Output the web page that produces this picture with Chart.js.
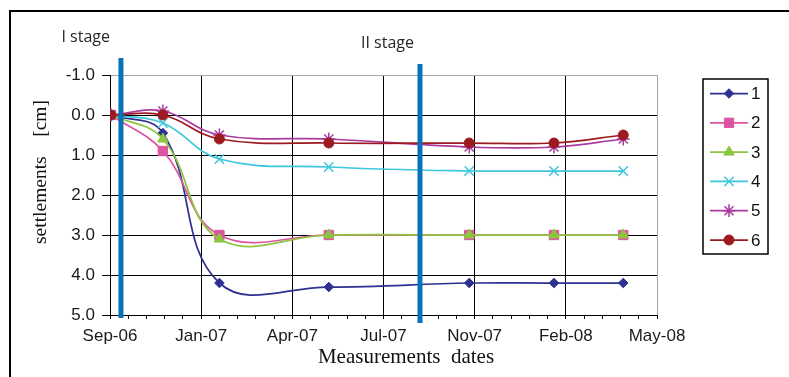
<!DOCTYPE html>
<html>
<head>
<meta charset="utf-8">
<script src="https://cdn.jsdelivr.net/npm/chart.js@4.4.1/dist/chart.umd.min.js"></script>
<style>
  html, body { margin: 0; padding: 0; background: #ffffff; }
  #wrap { width: 789px; height: 377px; position: relative; }
</style>
</head>
<body>
<div id="wrap"><canvas id="c" width="789" height="377"></canvas></div>
<script>
// Settlement readings of six gauges (cm, positive = downward), two loading stages
const axisStart = '2006-09-30';
const tickLabels = ['Sep-06', 'Jan-07', 'Apr-07', 'Jul-07', 'Nov-07', 'Feb-08', 'May-08'];
const measurementDates = ['2006-10-01', '2006-11-27', '2007-01-28', '2007-05-28', '2007-10-29', '2008-01-30', '2008-04-15'];
const stageDates = ['2006-10-12', '2007-09-05'];
const stageNames = ['I stage', 'II stage'];
const seriesNames = ['1', '2', '3', '4', '5', '6'];

const gauge1 = [0, 0.45, 4.2, 4.3, 4.2, 4.2, 4.2];
const gauge2 = [0, 0.9, 3.0, 3.0, 3.0, 3.0, 3.0];
const gauge3 = [0, 0.6, 3.1, 3.0, 3.0, 3.0, 3.0];
const gauge4 = [0, 0.2, 1.1, 1.3, 1.4, 1.4, 1.4];
const gauge5 = [0, -0.1, 0.5, 0.6, 0.8, 0.8, 0.6];
const gauge6 = [0, 0.0, 0.6, 0.7, 0.7, 0.7, 0.5];

const gaugeValues = [gauge1, gauge2, gauge3, gauge4, gauge5, gauge6];
const colors = ['#2e3192', '#de54a2', '#8cc63f', '#3ec6dd', '#aa3aa0', '#9b1b21'];
const markers = [
  { style: 'rectRot', r: 4.8 },
  { style: 'rect', r: 6.6 },
  { style: 'triangle', r: 6 },
  { style: 'crossRot', r: 6.6 },
  { style: 'star', r: 6.4 },
  { style: 'circle', r: 5 }
];

const DAY = 86400000;
const dayOf = s => Math.round((Date.parse(s) - Date.parse(axisStart)) / DAY);

const datasets = gaugeValues.map((vals, i) => ({
  label: seriesNames[i],
  data: measurementDates.map((d, k) => ({ x: dayOf(d), y: vals[k] })),
  borderColor: colors[i],
  backgroundColor: colors[i],
  pointBackgroundColor: colors[i],
  pointBorderColor: colors[i],
  pointStyle: markers[i].style,
  pointRadius: markers[i].r,
  pointBorderWidth: (markers[i].style === 'crossRot' || markers[i].style === 'star') ? 1.5 : 1,
  borderWidth: 1.75,
  tension: 0.4,
  fill: false,
  order: gaugeValues.length - i
}));

const serif = '"Liberation Serif", "Times New Roman", serif';
const sans = '"Liberation Sans", Arial, sans-serif';

const decor = {
  id: 'decor',
  afterDatasetsDraw(chart) {
    const { ctx, chartArea, scales } = chart;
    ctx.save();
    ctx.strokeStyle = '#0a72b8';
    ctx.lineWidth = 5;
    ctx.font = '16px "Open Sans", ' + sans;
    ctx.fillStyle = '#262626';
    ctx.textAlign = 'right';
    ctx.textBaseline = 'alphabetic';
    stageDates.forEach((d, i) => {
      const x = scales.x.getPixelForValue(dayOf(d));
      const top = chartArea.top - (i === 0 ? 17 : 11);
      const bottom = chartArea.bottom + (i === 0 ? 3 : 8);
      ctx.beginPath();
      ctx.moveTo(x, top);
      ctx.lineTo(x, bottom);
      ctx.stroke();
      ctx.fillText(stageNames[i], x - (i === 0 ? 11 : 6), top - 16);
    });
    ctx.restore();
  },
  afterDraw(chart) {
    const { ctx } = chart;
    ctx.save();
    // outer frame
    ctx.strokeStyle = '#000';
    ctx.lineWidth = 2;
    ctx.beginPath();
    ctx.moveTo(10, 377);
    ctx.lineTo(10, 11);
    ctx.lineTo(789, 11);
    ctx.stroke();

    // axis titles
    ctx.fillStyle = '#111';
    ctx.font = '21px ' + serif;
    ctx.textAlign = 'center';
    ctx.textBaseline = 'alphabetic';
    ctx.fillText('Measurements  dates', 406, 363);

    ctx.save();
    ctx.translate(45.5, 172);
    ctx.rotate(-Math.PI / 2);
    ctx.font = '19.5px ' + serif;
    ctx.fillText('settlements    [cm]', 0, 0);
    ctx.restore();

    // legend
    const lx = 703, ly = 79, lw = 65, lh = 175;
    ctx.strokeStyle = '#000';
    ctx.lineWidth = 1.5;
    ctx.strokeRect(lx, ly, lw, lh);
    ctx.font = '17px ' + sans;
    ctx.textAlign = 'left';
    ctx.textBaseline = 'middle';
    chart.data.datasets.forEach((ds, i) => {
      const y = ly + 14.5 + i * 29.3;
      ctx.strokeStyle = ds.borderColor;
      ctx.lineWidth = 1.75;
      ctx.beginPath();
      ctx.moveTo(710, y);
      ctx.lineTo(748, y);
      ctx.stroke();
      ctx.fillStyle = ds.pointBackgroundColor;
      ctx.strokeStyle = ds.pointBorderColor;
      ctx.lineWidth = ds.pointBorderWidth;
      if (Chart.helpers && Chart.helpers.drawPoint) {
        Chart.helpers.drawPoint(ctx, {
          pointStyle: ds.pointStyle, radius: ds.pointRadius,
          borderWidth: ds.pointBorderWidth, rotation: 0
        }, 729, y);
      }
      ctx.fillStyle = '#111';
      ctx.fillText(ds.label, 751, y + 1);
    });
    ctx.restore();
  }
};

new Chart(document.getElementById('c'), {
  type: 'line',
  data: { datasets },
  options: {
    responsive: false,
    animation: false,
    devicePixelRatio: 1,
    layout: { padding: { left: 0, top: 75, right: 132, bottom: 0 } },
    plugins: { legend: { display: false }, tooltip: { enabled: false } },
    scales: {
      x: {
        type: 'linear',
        min: 0,
        max: 600,
        afterFit: s => { s.height = 62; },
        border: { color: '#000', width: 1 },
        grid: {
          color: c => {
            const v = Math.round(c.tick ? c.tick.value : 0);
            if (v % 100 !== 0) return 'rgba(0,0,0,0)';
            return v === 600 ? '#a6a6a6' : '#000';
          },
          tickColor: '#000',
          tickLength: 4,
          lineWidth: 1
        },
        ticks: {
          stepSize: 20,
          autoSkip: false,
          maxRotation: 0,
          minRotation: 0,
          padding: 7,
          color: '#1a1a1a',
          font: { family: sans, size: 17 },
          callback: v => {
            const r = Math.round(v);
            return r % 100 === 0 ? tickLabels[r / 100] : '';
          }
        }
      },
      y: {
        reverse: true,
        min: -1,
        max: 5,
        afterFit: s => { s.width = 110; },
        border: { color: '#000', width: 1 },
        grid: {
          color: c => (c.tick && c.tick.value === -1) ? '#a6a6a6' : '#000',
          tickColor: '#000',
          tickLength: 8,
          lineWidth: 1
        },
        ticks: {
          stepSize: 1,
          padding: 7,
          color: '#1a1a1a',
          font: { family: sans, size: 17 },
          callback: v => Number(v).toFixed(1)
        }
      }
    }
  },
  plugins: [decor]
});
</script>
</body>
</html>
